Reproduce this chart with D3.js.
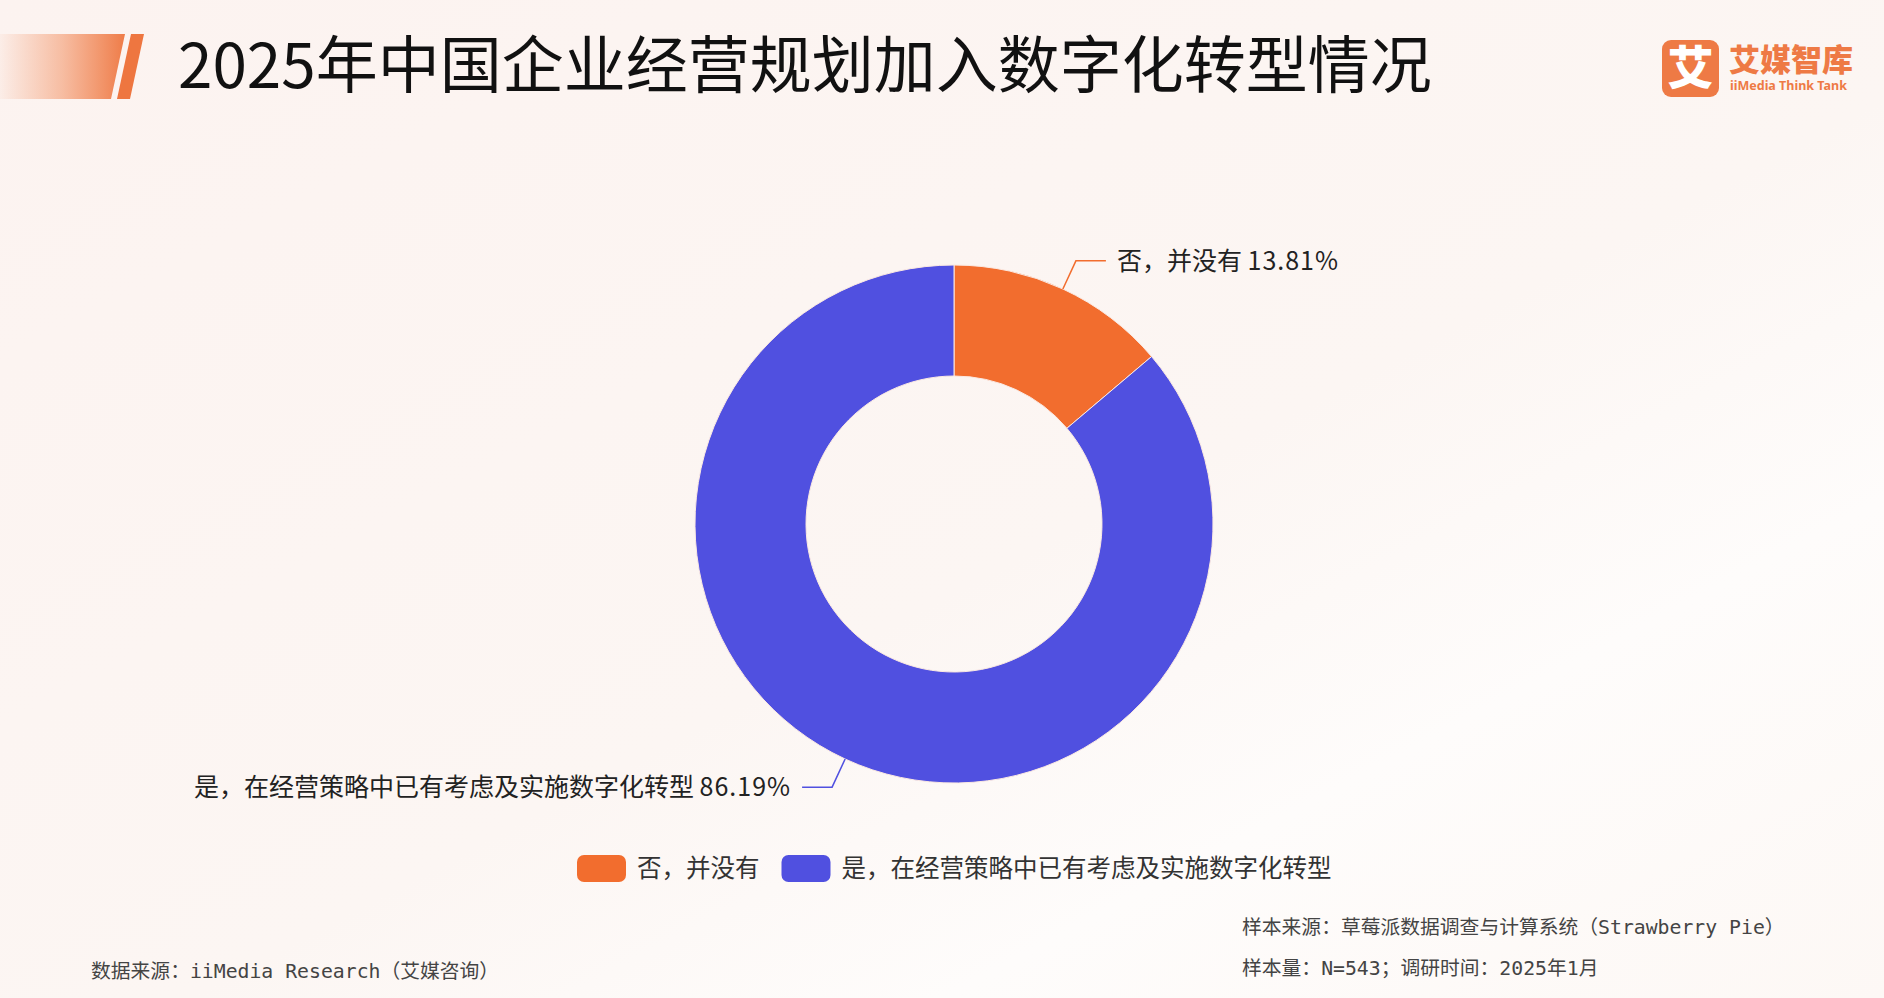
<!DOCTYPE html>
<html><head><meta charset="utf-8">
<script src="https://cdn.jsdelivr.net/npm/d3@7"></script>
<style>html,body{margin:0;padding:0;background:#fcf5f2;overflow:hidden}</style>
</head><body>
<svg id="c" width="1884" height="998"></svg>
<script>
const title = "2025年中国企业经营规划加入数字化转型情况";
const categories = ["否，并没有", "是，在经营策略中已有考虑及实施数字化转型"];
const values = [13.81, 86.19];
const colors = ["#f26d2e", "#5050e0"];
const sourceLeft = "数据来源：iiMedia Research（艾媒咨询）";
const sourceRight1 = "样本来源：草莓派数据调查与计算系统（Strawberry Pie）";
const sourceRight2 = "样本量：N=543；调研时间：2025年1月";

const W = 1884, H = 998;
const svg = d3.select("#c");
const defs = svg.append("defs");

// background
const bg = defs.append("linearGradient").attr("id","bg").attr("x1","0").attr("y1","0").attr("x2","1").attr("y2","1");
bg.append("stop").attr("offset","0").attr("stop-color","#fcf3f0");
bg.append("stop").attr("offset","0.55").attr("stop-color","#fcf6f3");
bg.append("stop").attr("offset","0.75").attr("stop-color","#fefcfb");
bg.append("stop").attr("offset","1").attr("stop-color","#fdf8f5");
svg.append("rect").attr("width",W).attr("height",H).attr("fill","url(#bg)");

// title accent
const tg = defs.append("linearGradient").attr("id","tg").attr("x1","0").attr("x2","1");
tg.append("stop").attr("offset","0").attr("stop-color","#f07a42").attr("stop-opacity",0.05);
tg.append("stop").attr("offset","0.5").attr("stop-color","#f07a42").attr("stop-opacity",0.45);
tg.append("stop").attr("offset","1").attr("stop-color","#ee7640").attr("stop-opacity",0.95);
svg.append("path").attr("d","M0,34 L125,34 L111,99 L0,99 Z").attr("fill","url(#tg)");
svg.append("path").attr("d","M131,34 L144,34 L130,99 L117,99 Z").attr("fill","#ee7640");

svg.append("text").attr("x",178).attr("y",88)
  .attr("font-family","'Noto Sans CJK SC'").attr("font-size",62).attr("fill","#111")
  .text(title);

// logo
const logo = svg.append("g");
logo.append("rect").attr("x",1662).attr("y",40).attr("width",57).attr("height",57).attr("rx",9).attr("fill","#ee7a45");
logo.append("text").attr("x",1690.5).attr("y",84).attr("text-anchor","middle")
  .attr("font-family","'Noto Sans CJK SC'").attr("font-weight",900).attr("font-size",46).attr("fill","#fff").text("艾");
logo.append("text").attr("x",1729).attr("y",71)
  .attr("font-family","'Noto Sans CJK SC'").attr("font-weight",900).attr("font-size",31).attr("fill","#ee7a45").text("艾媒智库");
logo.append("text").attr("x",1730).attr("y",90)
  .attr("font-family","'Noto Sans', sans-serif").attr("font-weight",700).attr("font-size",12.5).attr("fill","#ee7a45").text("iiMedia Think Tank");

// donut
const cx = 954, cy = 524, R = 259, r = 148;
const pie = d3.pie().sort(null).value(d => d)(values);
const arc = d3.arc().innerRadius(r).outerRadius(R);
const g = svg.append("g").attr("transform",`translate(${cx},${cy})`);
g.selectAll("path.slice").data(pie).join("path").attr("class","slice")
  .attr("d",arc).attr("fill",(d,i)=>colors[i])
  .attr("stroke","#fbe9e2").attr("stroke-width",1);

// labels
const edge = d3.arc().innerRadius(R).outerRadius(R);
const elbow = d3.arc().innerRadius(R+31).outerRadius(R+31);
pie.forEach((d,i) => {
  const p0 = edge.centroid(d), p1 = elbow.centroid(d);
  const mid = (d.startAngle + d.endAngle)/2;
  const right = Math.sin(mid) > 0;
  const p2 = [p1[0] + (right ? 30 : -30), p1[1]];
  g.append("polyline").attr("points",[p0,p1,p2].map(p=>p.join(",")).join(" "))
    .attr("fill","none").attr("stroke",colors[i]).attr("stroke-width",1.5);
  const t = g.append("text").attr("x",p2[0] + (right ? 11 : -11)).attr("y",p2[1])
    .attr("dy","0.35em").attr("text-anchor",right ? "start" : "end")
    .attr("font-family","'Noto Sans CJK SC'").attr("font-size",25).attr("fill","#222");
  t.append("tspan").text(categories[i] + " ");
  t.append("tspan").attr("letter-spacing",1).text(d3.format(".2f")(values[i]) + "%");
});

// legend
const lg = svg.append("g").attr("transform","translate(577,855)");
let lx = 0;
categories.forEach((c,i) => {
  lg.append("rect").attr("x",lx).attr("y",0).attr("width",49).attr("height",27).attr("rx",7).attr("fill",colors[i]);
  const t = lg.append("text").attr("x",lx+60).attr("y",13.5).attr("dy","0.36em")
    .attr("font-family","'Noto Sans CJK SC'").attr("font-size",24.5).attr("fill","#333").text(c);
  lx += 60 + t.node().getComputedTextLength() + 22;
});

// footer
const ff = "'DejaVu Sans Mono','Noto Sans CJK SC'";
svg.append("text").attr("x",91).attr("y",978).attr("font-family",ff).attr("font-size",19.8).attr("fill","#444").text(sourceLeft);
svg.append("text").attr("x",1242).attr("y",934).attr("font-family",ff).attr("font-size",19.8).attr("fill","#444").text(sourceRight1);
svg.append("text").attr("x",1242).attr("y",975).attr("font-family",ff).attr("font-size",19.8).attr("fill","#444").text(sourceRight2);
</script>
</body></html>
